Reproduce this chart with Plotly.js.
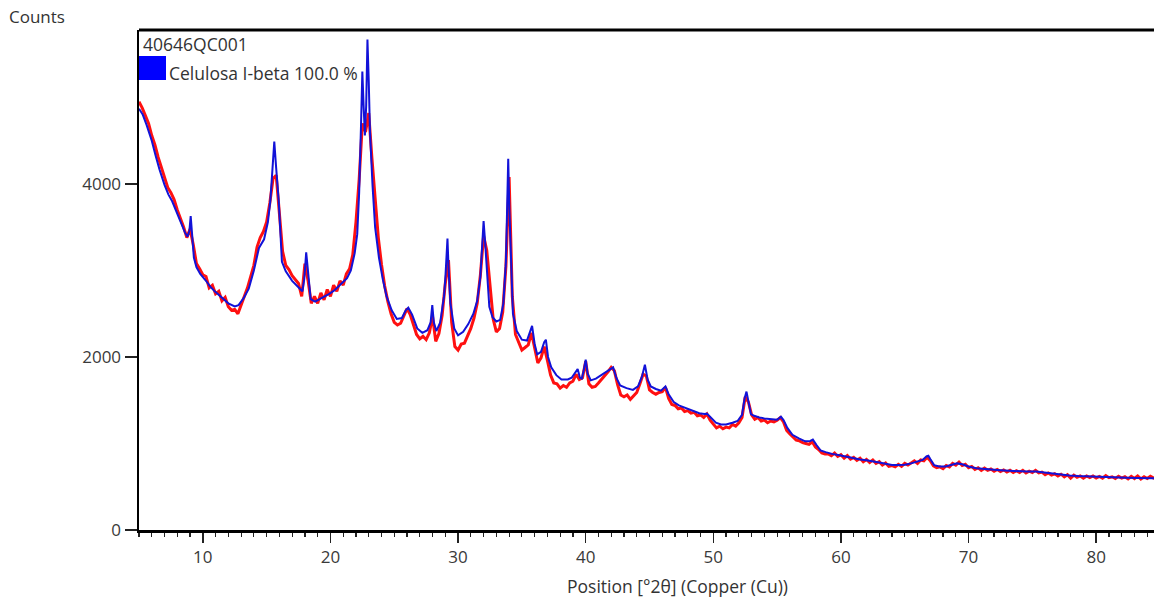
<!DOCTYPE html>
<html>
<head>
<meta charset="utf-8">
<script src="https://cdn.plot.ly/plotly-3.0.1.min.js"></script>
<style>html,body{margin:0;padding:0;background:#fff;overflow:hidden}#chart{width:1154px;height:603px}</style>
</head>
<body>
<div id="chart"></div>
<script>
// Observed pattern (red), scan start and step in degrees 2theta
const obsStart = 5.0;
const obsStep = 0.25;
const obsCounts = [
4950,4880,4790,4700,4560,4450,4310,4190,
4080,3960,3900,3820,3700,3610,3500,3380,
3480,3300,3080,3020,2950,2930,2800,2830,
2730,2760,2650,2690,2580,2540,2550,2500,
2600,2720,2800,2930,3060,3270,3380,3450,
3560,3780,4060,4100,3640,3220,3060,3010,
2940,2900,2850,2700,3080,2880,2620,2700,
2620,2740,2660,2780,2700,2830,2760,2880,
2830,2960,3020,3180,3560,4050,4700,4600,
4820,4300,3780,3380,3070,2820,2640,2500,
2400,2370,2390,2470,2560,2490,2380,2260,
2210,2240,2200,2280,2470,2180,2270,2480,
2850,3120,2400,2120,2080,2150,2160,2240,
2330,2450,2620,2950,3400,3230,2790,2440,
2290,2330,2520,3050,4080,2700,2260,2180,
2080,2110,2140,2280,2100,1930,1990,2120,
1960,1790,1700,1690,1640,1670,1650,1700,
1720,1800,1740,1760,1950,1690,1650,1660,
1700,1740,1790,1830,1880,1840,1680,1560,
1540,1560,1510,1550,1590,1690,1800,1780,
1620,1590,1570,1590,1600,1650,1520,1450,
1440,1400,1410,1370,1380,1350,1360,1320,
1330,1300,1340,1270,1230,1180,1200,1170,
1190,1180,1220,1200,1240,1300,1540,1480,
1330,1280,1300,1260,1270,1240,1260,1250,
1270,1300,1250,1150,1110,1070,1040,1030,
1010,1000,990,1020,960,930,890,880,
880,860,890,850,870,830,860,820,
840,805,830,790,815,780,810,770,
790,750,775,735,745,730,760,735,
770,750,780,800,770,810,800,840,
800,740,720,730,710,745,730,770,
750,785,745,760,720,735,700,720,
690,715,690,705,680,700,675,695,
670,690,665,685,665,690,660,680,
665,690,660,670,640,660,635,650,
625,645,615,640,600,635,610,625,
600,625,605,625,600,620,600,630,
605,615,595,620,600,615,590,620,
595,625,590,615,595,620,600,610
];

// Calculated profile (blue)
const calcPos = [
5.0,5.3,5.6,6.0,6.3,6.6,7.0,7.3,7.6,8.0,8.3,8.6,8.8,8.95,9.05,9.15,9.3,9.5,9.8,10.2,
10.6,11.0,11.5,12.0,12.5,12.8,13.2,13.6,14.0,14.4,14.8,15.1,15.3,15.45,15.6,15.75,15.95,16.2,16.5,17.0,
17.5,17.8,17.95,18.1,18.25,18.45,18.8,19.3,19.8,20.3,20.8,21.3,21.6,21.9,22.1,22.25,22.4,22.5,22.6,22.7,
22.8,22.9,23.0,23.1,23.3,23.5,23.8,24.1,24.4,24.8,25.2,25.6,25.9,26.1,26.4,26.8,27.2,27.6,27.85,27.98,
28.1,28.3,28.6,28.9,29.0,29.1,29.17,29.25,29.4,29.7,30.0,30.4,30.8,31.2,31.5,31.75,31.9,32.0,32.1,32.25,
32.45,32.7,33.0,33.3,33.55,33.75,33.85,33.93,34.02,34.15,34.3,34.6,35.0,35.4,35.65,35.8,36.0,36.2,36.5,36.75,
36.88,37.05,37.3,37.7,38.1,38.6,38.9,39.2,39.37,39.55,39.7,39.85,40.0,40.15,40.4,40.8,41.2,41.6,41.9,42.15,
42.4,42.7,43.2,43.7,44.1,44.4,44.64,44.85,45.1,45.5,45.9,46.25,46.5,46.9,47.3,47.8,48.3,48.9,49.3,49.5,
49.8,50.2,50.6,51.0,51.5,51.9,52.25,52.45,52.6,52.75,52.95,53.2,53.6,54.0,54.5,55.0,55.3,55.5,55.8,56.2,
56.7,57.2,57.6,57.8,58.1,58.4,58.8,59.3,59.9,60.5,61.0,61.5,62.0,62.5,63.0,63.5,64.0,64.5,65.0,65.5,
66.0,66.4,66.7,66.85,67.0,67.3,67.7,68.2,68.7,69.1,69.5,70.0,70.6,71.2,71.8,72.5,73.2,73.9,74.6,75.3,
75.9,76.6,77.2,77.9,78.6,79.3,80.0,80.8,81.6,82.4,83.2,84.0,84.8
];
const calcCounts = [
4870,4800,4680,4500,4330,4170,3990,3880,3800,3660,3540,3440,3390,3460,3630,3420,3150,3040,2960,2890,
2810,2750,2690,2620,2585,2600,2680,2790,3000,3260,3360,3560,3820,4150,4490,4180,3800,3100,2990,2880,
2800,2760,2900,3210,2980,2670,2640,2680,2720,2770,2840,2910,3000,3200,3420,3900,4700,5300,4900,4560,
4900,5670,5200,4600,3980,3500,3150,2900,2700,2540,2440,2450,2540,2570,2490,2330,2280,2310,2400,2600,
2400,2300,2400,2700,2900,3250,3370,3050,2620,2330,2250,2290,2380,2500,2650,2930,3250,3570,3370,3000,
2580,2460,2410,2430,2620,3100,3700,4290,3700,3100,2500,2300,2200,2190,2300,2360,2150,2030,2060,2170,
2200,2000,1880,1790,1740,1740,1760,1820,1860,1760,1750,1850,1970,1810,1730,1750,1790,1820,1850,1880,
1760,1670,1640,1620,1660,1770,1910,1740,1660,1630,1610,1660,1570,1480,1440,1410,1380,1350,1340,1345,
1300,1240,1220,1220,1240,1260,1330,1520,1600,1500,1340,1320,1300,1290,1280,1275,1310,1270,1180,1100,
1060,1025,1030,1045,980,920,900,880,865,845,830,815,805,795,780,765,752,750,755,770,
790,810,850,858,820,750,735,735,755,770,760,735,715,705,698,692,685,678,675,676,
665,648,638,630,623,618,615,612,608,604,601,598,596
];

const xTickVals = [10,20,30,40,50,60,70,80];
const yTickVals = [0,2000,4000];

const fam = 'Open Sans, Noto Sans, sans-serif';
const tickFont = {family: fam, size: 17, color: '#3a3a3a'};
const labelFont = {family: fam, size: 17.5, color: '#333'};

const traces = [
  {type: 'scatter', mode: 'lines', x0: obsStart, dx: obsStep, y: obsCounts,
   line: {color: '#ff1010', width: 3}, hoverinfo: 'skip'},
  {type: 'scatter', mode: 'lines', x: calcPos, y: calcCounts,
   line: {color: '#1212d8', width: 2}, hoverinfo: 'skip'}
];

const layout = {
  width: 1154, height: 603,
  margin: {l: 139, r: 0, t: 30, b: 73},
  paper_bgcolor: '#ffffff', plot_bgcolor: '#ffffff',
  showlegend: false,
  font: tickFont,
  xaxis: {
    range: [5, 84.53], showgrid: false, zeroline: false,
    showline: true, linecolor: '#000', linewidth: 2.5,
    ticks: 'outside', ticklen: 10, tickwidth: 1.5, tickcolor: '#222',
    tickvals: xTickVals, tickfont: tickFont,
    minor: {ticks: 'outside', ticklen: 4, tickwidth: 1.2, tickcolor: '#222', dtick: 1, tick0: 0, showgrid: false}
  },
  yaxis: {
    range: [0, 5780], showgrid: false, zeroline: false,
    showline: true, linecolor: '#000', linewidth: 2.5,
    ticks: 'outside', ticklen: 12, tickwidth: 1.5, tickcolor: '#222',
    tickvals: yTickVals, tickfont: tickFont
  },
  shapes: [
    {type: 'line', xref: 'paper', yref: 'paper', x0: 0, x1: 1, y0: 1, y1: 1,
     line: {color: '#000', width: 3}},
    {type: 'rect', xref: 'paper', yref: 'paper', x0: 0, x1: 0.0266, y0: 0.90, y1: 0.948,
     fillcolor: '#0000ff', line: {width: 0}}
  ],
  annotations: [
    {text: 'Counts', xref: 'paper', yref: 'paper', x: -0.1305, y: 1.026, xanchor: 'left', yanchor: 'middle',
     showarrow: false, font: {family: fam, size: 17, color: '#333'}},
    {text: '40646QC001', xref: 'paper', yref: 'paper', x: 0.002, y: 0.972, xanchor: 'left', yanchor: 'middle',
     showarrow: false, font: labelFont},
    {text: 'Celulosa I-beta 100.0 %', xref: 'paper', yref: 'paper', x: 0.0275, y: 0.914, xanchor: 'left', yanchor: 'middle',
     showarrow: false, font: labelFont},
    {text: 'Position [°2θ] (Copper (Cu))', xref: 'paper', yref: 'paper', x: 0.531, y: -0.112, xanchor: 'center', yanchor: 'middle',
     showarrow: false, font: labelFont}
  ]
};

Plotly.newPlot('chart', traces, layout, {staticPlot: true, displayModeBar: false});
</script>
</body>
</html>
